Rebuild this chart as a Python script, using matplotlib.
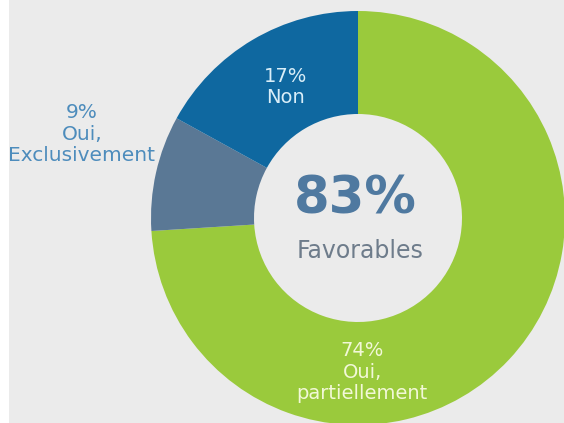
import matplotlib
matplotlib.use('Agg')
import matplotlib.pyplot as plt
from matplotlib.patches import Rectangle

# Data
labels = ['Oui, partiellement', 'Oui, Exclusivement', 'Non']
values = [74, 9, 17]
colors = ['#9aca3c', '#5a7895', '#0f68a0']
favorables = 83

plt.rcParams['font.family'] = ['DejaVu Sans']

fig = plt.figure(figsize=(5.64, 4.23), dpi=100)
fig.patch.set_facecolor('#ebebeb')
# white strip on the left edge
fig.patches.append(Rectangle((0, 0), 9 / 564, 1, transform=fig.transFigure,
                             facecolor='white', edgecolor='none', zorder=0))

ax = fig.add_axes([0, 0, 1, 1])
ax.set_xlim(0, 564)
ax.set_ylim(0, 423)
ax.set_aspect('equal')
ax.axis('off')

ax.pie(values, colors=colors, startangle=90, counterclock=False,
       radius=207, center=(358, 205),
       wedgeprops=dict(width=103, edgecolor='none'))
ax.set_xlim(0, 564)
ax.set_ylim(0, 423)

# center text
ax.text(355, 210, f'{favorables}%', ha='center', va='baseline',
        fontsize=37, fontweight='bold', color='#4f79a0')
ax.text(360, 165, 'Favorables', ha='center', va='baseline',
        fontsize=17, color='#6e7c8b')

# slice labels
ax.text(286, 336, f'{values[2]}%\nNon', ha='center', va='center',
        fontsize=14, color='#d9eef8', linespacing=1.15)
ax.text(362, 51, f'{values[0]}%\nOui,\npartiellement', ha='center', va='center',
        fontsize=14, color='#f2f8d8', linespacing=1.15)
ax.text(82, 289, f'{values[1]}%\nOui,\nExclusivement', ha='center', va='center',
        fontsize=14.5, color='#4d8cbc', linespacing=1.15)

fig.savefig('out.png', dpi=100, facecolor=fig.get_facecolor())
